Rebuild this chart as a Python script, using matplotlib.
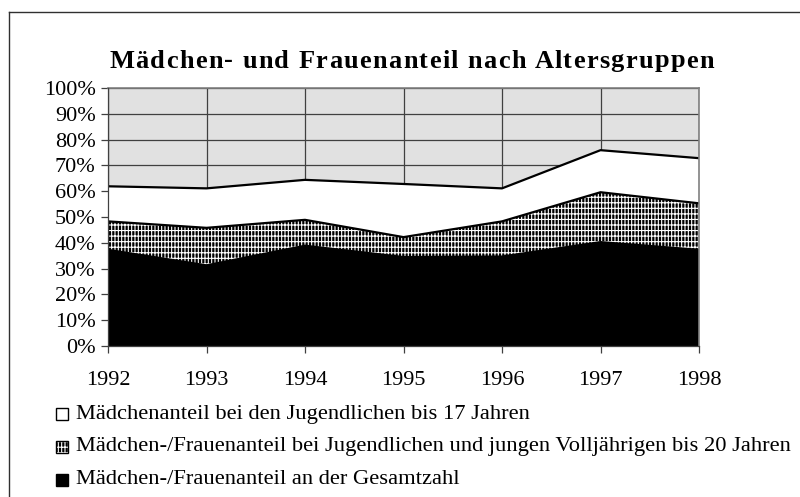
import matplotlib
matplotlib.use("Agg")
import matplotlib.pyplot as plt
from matplotlib.patches import Rectangle
from matplotlib.lines import Line2D

plt.rcParams['font.family'] = ['Liberation Serif', 'DejaVu Serif']
plt.rcParams['hatch.linewidth'] = 0.8

years = [1992, 1993, 1994, 1995, 1996, 1997, 1998]
jugendliche_17 = [61.9, 61.1, 64.4, 62.8, 61.1, 75.9, 72.8]
jugendliche_20 = [48.3, 45.8, 48.9, 42.2, 48.3, 59.6, 55.3]
gesamt = [37.7, 31.7, 39.3, 34.9, 35.1, 40.7, 37.7]

labels = [
    "Mädchenanteil bei den Jugendlichen bis 17 Jahren",
    "Mädchen-/Frauenanteil bei Jugendlichen und jungen Volljährigen bis 20 Jahren",
    "Mädchen-/Frauenanteil an der Gesamtzahl",
]
title = "Mädchen- und Frauenanteil nach Altersgruppen"
yticks = list(range(0, 101, 10))

W, H = 800, 497
FS = 16
fig = plt.figure(figsize=(W / 100, H / 100), dpi=100)
ax = fig.add_axes([108 / W, 1 - 346 / H, (699 - 108) / W, (346 - 88) / H])

ax.set_facecolor('#e1e1e1')
ax.set_axisbelow(True)
ax.grid(True, color='#404040', linewidth=0.9)

ax.fill_between(years, 0, jugendliche_17, facecolor='white', linewidth=0, zorder=1)
ax.plot(years, jugendliche_17, color='black', linewidth=1.6, zorder=1.1)
ax.fill_between(years, 0, jugendliche_20, facecolor='black', edgecolor='white',
                hatch='|||||---', linewidth=0, zorder=1.2)
ax.plot(years, jugendliche_20, color='black', linewidth=1.6, zorder=1.3)
ax.fill_between(years, 0, gesamt, facecolor='black', linewidth=0, zorder=1.4)

ax.set_xlim(years[0], years[-1])
ax.set_ylim(0, 100)
ax.set_xticks(years)
ax.set_xticklabels([str(y) for y in years])
ax.set_yticks(yticks)
ax.set_yticklabels([f"{v}%" for v in yticks])
ax.tick_params(axis='both', direction='out', length=5, width=0.9, color='#404040',
               labelsize=FS)
ax.tick_params(axis='x', pad=13)
ax.tick_params(axis='y', pad=4)
for s in ['top', 'right']:
    ax.spines[s].set_color('#808080')
    ax.spines[s].set_linewidth(1.2)
for s in ['left', 'bottom']:
    ax.spines[s].set_color('#404040')
    ax.spines[s].set_linewidth(0.9)
    ax.spines[s].set_zorder(3)

# title with letter spacing
renderer = fig.canvas.get_renderer()
title_fs = 19
x_left, x_right, y_title = 109, 714, 61
probe = fig.text(0, 0, "", fontsize=title_fs, fontweight='bold')
prefix_w = []
for i in range(len(title) + 1):
    probe.set_text(title[:i] if i > 0 else "")
    prefix_w.append(probe.get_window_extent(renderer).width if i > 0 else 0.0)
probe.remove()
natural = prefix_w[-1]
extra = (x_right - x_left - natural) / (len(title) - 1)
for i, ch in enumerate(title):
    if ch == " ":
        continue
    fig.text((x_left + prefix_w[i] + i * extra) / W, 1 - y_title / H, ch,
             ha='left', va='center', fontsize=title_fs, fontweight='bold')

# outer chart frame (left and top edges visible)
fig.add_artist(Line2D([9 / W, 9 / W], [0, 1 - 11.5 / H], color='#303030', linewidth=1.0))
fig.add_artist(Line2D([9 / W, 1], [1 - 11.5 / H, 1 - 11.5 / H], color='#303030', linewidth=1.0))

# legend
rows = [414, 447, 480]
styles = [dict(facecolor='white'),
          dict(facecolor='black', hatch='|||||---'),
          dict(facecolor='black')]
SZ = 12
for y, lab, st in zip(rows, labels, styles):
    box = (56 / W, 1 - (y + SZ / 2) / H)
    if 'hatch' in st:
        fig.add_artist(Rectangle(box, SZ / W, SZ / H, transform=fig.transFigure,
                                 edgecolor='white', linewidth=0, **st))
        fig.add_artist(Rectangle(box, SZ / W, SZ / H, transform=fig.transFigure,
                                 facecolor='none', edgecolor='black', linewidth=1.0))
    else:
        fig.add_artist(Rectangle(box, SZ / W, SZ / H, transform=fig.transFigure,
                                 edgecolor='black', linewidth=1.0, **st))
    fig.text(76 / W, 1 - y / H, lab, ha='left', va='center', fontsize=16.2)

fig.savefig("out.png", dpi=100)
